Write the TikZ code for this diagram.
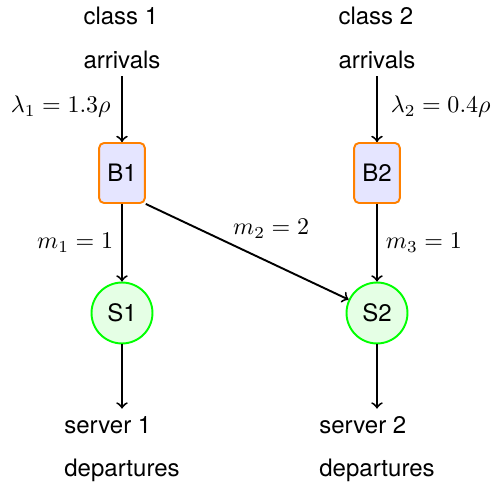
\documentclass[tikz,border=0pt]{standalone}
\usepackage{fontspec}
\setmainfont{TeX Gyre Heros}
\begin{document}
\begin{tikzpicture}[x=0.41667pt, y=-0.41667pt,
  flow/.style={->, thick},
  buffer/.style={draw=orange, thick, fill=blue!10, rounded corners=2pt,
    minimum width=19pt, minimum height=25pt, inner sep=0pt},
  server/.style={circle, draw=green, thick, fill=green!10,
    minimum size=25.4pt, inner sep=0pt},
  caption/.style={align=left, inner sep=3pt}]
  \useasboundingbox (0,0) rectangle (494,483);

  % sources
  \node[caption] (c1) at (122,38) {class 1\\[6pt]arrivals};
  \node[caption] (c2) at (377,38) {class 2\\[6pt]arrivals};

  % buffers and servers
  \node[buffer] (B1) at (122,173) {B1};
  \node[buffer] (B2) at (377,173) {B2};
  \node[server] (S1) at (122,313) {S1};
  \node[server] (S2) at (377,313) {S2};

  % sinks
  \node[caption] (d1) at (122,449) {server 1\\[6pt]departures};
  \node[caption] (d2) at (377,449) {server 2\\[6pt]departures};

  % routing
  \draw[flow] (c1) -- node[left, yshift=1pt, xshift=-1pt] {$\lambda_1=1.3\rho$} (B1);
  \draw[flow] (c2) -- node[right, yshift=1pt, xshift=2pt] {$\lambda_2=0.4\rho$} (B2);
  \draw[flow] (B1) -- node[left] {$m_1=1$} (S1);
  \draw[flow] (B2) -- node[right] {$m_3=1$} (S2);
  \draw[flow] (B1.south east) -- node[above=2pt, xshift=10pt] {$m_2=2$} (S2);
  \draw[flow] (S1) -- (d1);
  \draw[flow] (S2) -- (d2);
\end{tikzpicture}
\end{document}
